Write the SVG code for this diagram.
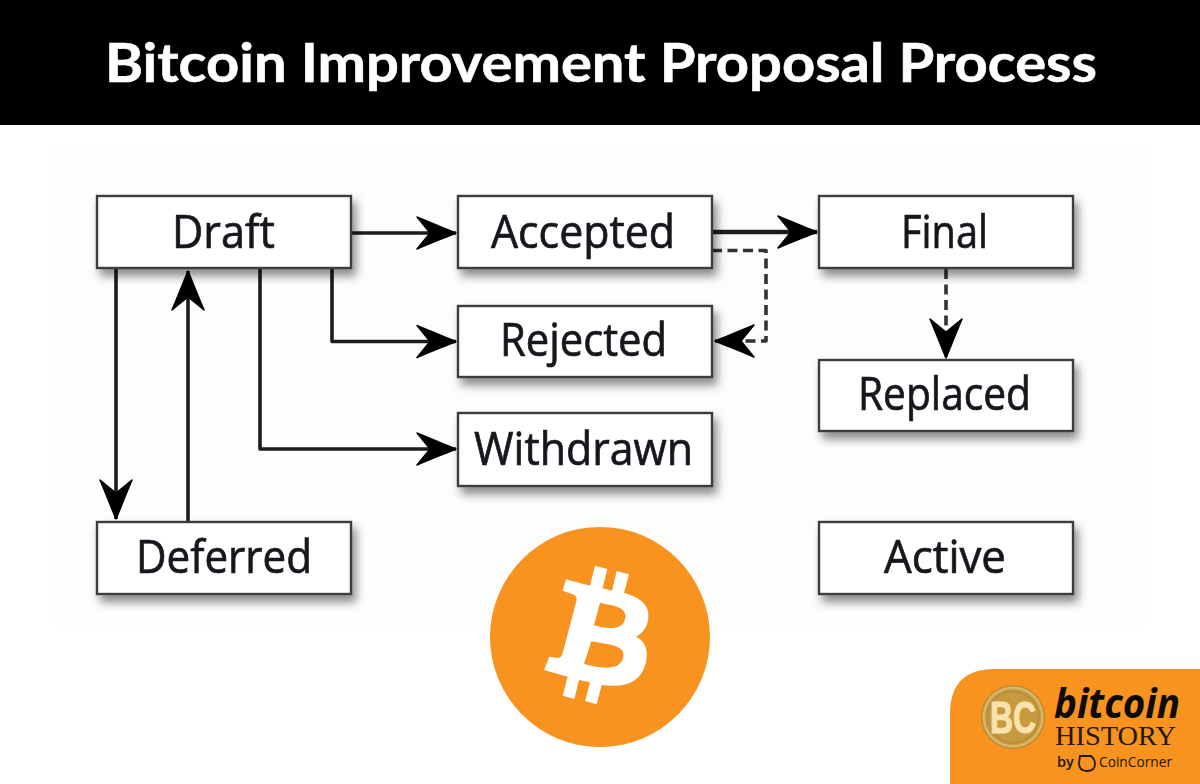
<svg xmlns="http://www.w3.org/2000/svg" width="1200" height="784" viewBox="0 0 1200 784">
<style>
.box{fill:#fff;stroke:#3c3c3c;stroke-width:2.4}
.lbl{font-family:"Open Sans","DejaVu Sans",sans-serif;font-size:45px;fill:#15191f;stroke:#15191f;stroke-width:.7;text-anchor:middle;filter:url(#soft)}
.con{fill:none;stroke:#1c1c1c;stroke-width:3.6;stroke-linejoin:round}
.dash{stroke-dasharray:10 5.5;stroke:#333}
</style>
<defs>
<filter id="shadow" x="-10%" y="-20%" width="125%" height="155%"><feDropShadow dx="4" dy="7" stdDeviation="5" flood-color="#000" flood-opacity=".45"/></filter>
<filter id="soft" x="-5%" y="-10%" width="110%" height="120%"><feGaussianBlur stdDeviation=".6"/></filter>
<filter id="softline" filterUnits="userSpaceOnUse" x="0" y="0" width="1200" height="784"><feGaussianBlur stdDeviation=".5"/></filter>
<marker id="arrow" markerUnits="userSpaceOnUse" markerWidth="42" markerHeight="36" viewBox="0 0 42 36" refX="40" refY="18" orient="auto">
<path d="M40,18C28,13 15,8 1,2C6,8 10,13 14,18C10,23 6,28 1,34C15,28 28,23 40,18Z" fill="#050505" stroke="#050505" stroke-width="1.500" stroke-linejoin="round"/>
</marker>
<radialGradient id="coin"><stop offset=".6" stop-color="#d9ad55"/><stop offset=".82" stop-color="#b98d35"/><stop offset=".92" stop-color="#e0bd6c"/><stop offset="1" stop-color="#a97d2b"/></radialGradient>
</defs>
<rect width="1200" height="784" fill="#fff"/>
<rect x="50" y="150" width="1100" height="475" fill="#fdfdfd"/>
<g id="title">
<rect width="1200" height="125" fill="#000"/>
<text x="601" y="82" font-family="Lato, sans-serif" font-weight="700" font-size="54" fill="#fff" stroke="#fff" stroke-width=".6" text-anchor="middle" textLength="992" lengthAdjust="spacingAndGlyphs">Bitcoin Improvement Proposal Process</text>
</g>
<g id="connectors" filter="url(#softline)">
<path class="con" marker-end="url(#arrow)" d="M352,233H456"/>
<path class="con" style="stroke-width:4.6" marker-end="url(#arrow)" d="M712,232H817"/>
<path class="con dash" marker-end="url(#arrow)" d="M712,250.500H766V341H715"/>
<path class="con dash" marker-end="url(#arrow)" d="M946,269V358"/>
<path class="con" marker-end="url(#arrow)" d="M116,268V519"/>
<path class="con" marker-end="url(#arrow)" d="M188,521V271"/>
<path class="con" marker-end="url(#arrow)" d="M260,268V449H456"/>
<path class="con" marker-end="url(#arrow)" d="M332,268V341.500H456"/>
</g>
<g id="draft"><rect class="box" filter="url(#shadow)" x="97" y="196" width="254" height="72"/><text class="lbl" x="223.500" y="248" textLength="103" lengthAdjust="spacingAndGlyphs">Draft</text></g>
<g id="accepted"><rect class="box" filter="url(#shadow)" x="458" y="196" width="254" height="72"/><text class="lbl" x="583" y="248" textLength="184" lengthAdjust="spacingAndGlyphs">Accepted</text></g>
<g id="final"><rect class="box" filter="url(#shadow)" x="819" y="196" width="254" height="72"/><text class="lbl" x="944.500" y="248" textLength="87" lengthAdjust="spacingAndGlyphs">Final</text></g>
<g id="rejected"><rect class="box" filter="url(#shadow)" x="458" y="306" width="254" height="71"/><text class="lbl" x="583.500" y="356" textLength="167" lengthAdjust="spacingAndGlyphs">Rejected</text></g>
<g id="replaced"><rect class="box" filter="url(#shadow)" x="819" y="360" width="254" height="71"/><text class="lbl" x="944.500" y="410" textLength="173" lengthAdjust="spacingAndGlyphs">Replaced</text></g>
<g id="withdrawn"><rect class="box" filter="url(#shadow)" x="458" y="413" width="254" height="73"/><text class="lbl" x="583.500" y="465" textLength="219" lengthAdjust="spacingAndGlyphs">Withdrawn</text></g>
<g id="deferred"><rect class="box" filter="url(#shadow)" x="97" y="522" width="254" height="72"/><text class="lbl" x="224" y="573" textLength="176" lengthAdjust="spacingAndGlyphs">Deferred</text></g>
<g id="active"><rect class="box" filter="url(#shadow)" x="819" y="522" width="254" height="72"/><text class="lbl" x="945" y="573" textLength="122" lengthAdjust="spacingAndGlyphs">Active</text></g>
<g id="bitcoin-logo">
<circle cx="600" cy="637" r="110" fill="#f7931e"/>
<path transform="translate(480 520) scale(.3333)" fill="#fff" fill-rule="evenodd" d="M345,137L382,147L368,205L396,212L410,153L447,163L432,218C480,232 510,255 505,295C502,320 490,340 468,350C495,362 507,390 497,430C484,485 440,505 365,495L350,553L315,543L330,487L297,480L283,537L248,527L263,470L192,450L208,410L232,414C240,414 245,410 247,403L290,240C290,230 285,224 276,222L248,212L258,178L330,197ZM360,248L342,316C375,326 428,335 436,295C443,258 392,256 360,248ZM334,364L312,432C350,442 420,458 430,412C438,372 376,374 334,364Z"/>
</g>
<g id="badge">
<path d="M1200,669H995Q950,669 950,714V784H1200Z" fill="#f7931e"/>
<circle cx="1013" cy="717" r="32" fill="url(#coin)"/>
<circle cx="1013" cy="717" r="24" fill="#c89a40"/>
<text x="1013" y="733" font-family="Liberation Sans, sans-serif" font-weight="700" font-size="44" fill="#f8e3ae" stroke="#f8e3ae" stroke-width="1" text-anchor="middle" textLength="46" lengthAdjust="spacingAndGlyphs">BC</text>
<text x="1054" y="718" font-family="Open Sans, sans-serif" font-weight="700" font-style="italic" font-size="41" fill="#0c0a05" textLength="126" lengthAdjust="spacingAndGlyphs">bitcoin</text>
<text x="1055" y="745" font-family="Liberation Serif, serif" font-size="27" fill="#231707" textLength="121" lengthAdjust="spacingAndGlyphs">HISTORY</text>
<text x="1057" y="767" font-family="Open Sans, sans-serif" font-weight="600" font-size="14.500" fill="#231707">by</text>
<path d="M1080,756H1091Q1095,759 1095,764Q1095,771 1087,771Q1079,771 1079,763Z" fill="none" stroke="#231707" stroke-width="1.800"/>
<text x="1099" y="767" font-family="Open Sans, sans-serif" font-size="14.500" fill="#231707" textLength="73" lengthAdjust="spacingAndGlyphs">CoinCorner</text>
</g>
</svg>
